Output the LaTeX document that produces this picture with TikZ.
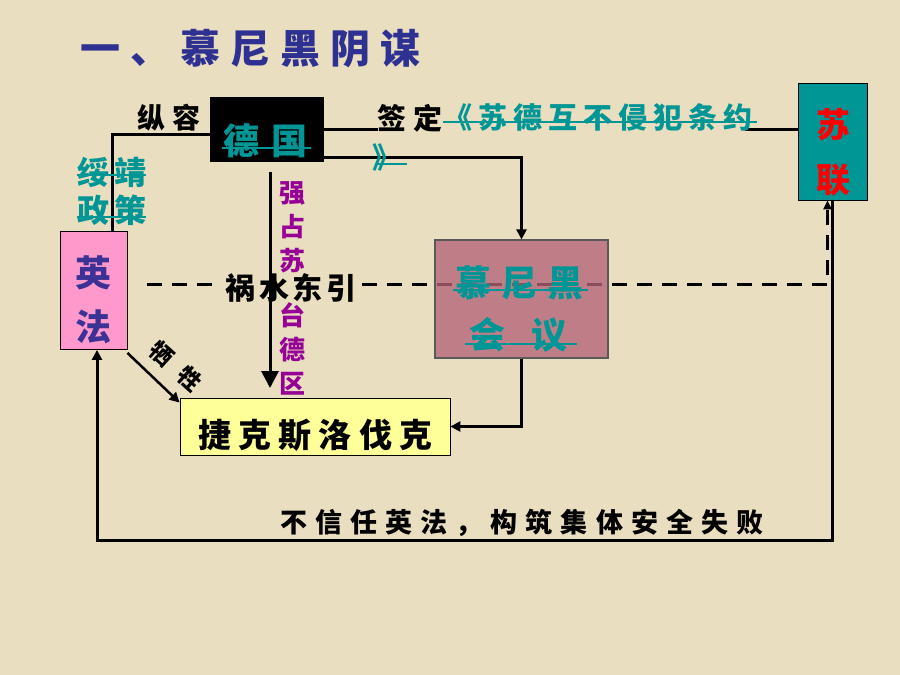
\documentclass[tikz,border=0pt]{standalone}
\usepackage{fontspec}
\setmainfont{Noto Sans CJK SC}
\usetikzlibrary{arrows.meta,calc}
\definecolor{bg}{RGB}{234,222,192}
\definecolor{tealc}{RGB}{0,150,150}
\definecolor{purp}{RGB}{150,0,150}
\definecolor{titleblue}{RGB}{46,49,146}
\definecolor{yfblue}{RGB}{60,50,150}
\definecolor{pinkc}{RGB}{255,153,204}
\definecolor{yellowc}{RGB}{255,255,153}
\definecolor{mauve}{RGB}{180,100,120}
\definecolor{slteal}{RGB}{0,150,150}
\newcommand\cjkf[3]{\fontsize{#1}{#2}\bfseries\addfontfeatures{LetterSpace=#3}}
\begin{document}
\begin{tikzpicture}[x=1pt,y=-1pt,
  conn/.style={line width=3pt, draw=black},
  tipsm/.style={-{Triangle[length=10pt,width=10pt]}},
  tipbig/.style={-{Triangle[length=17pt,width=17pt]}},
  dsh/.style={line width=3pt, dash pattern=on 15pt off 10pt},
  box/.style={draw=black, inner sep=0pt, line width=0.8pt},
  txt/.style={inner sep=0pt},
  strike/.style={line width=2pt, draw=tealc}]
\fill[bg] (0,0) rectangle (900,675);
\useasboundingbox (0,0) rectangle (900,675);

% title
\node[txt, anchor=west, text=titleblue, font={\cjkf{40}{40}{25}}] (ti) at (80,49) {一、慕尼黑阴谋};

% boxes
\node[box, fill=black, minimum width=113pt, minimum height=64pt] (de) at (266.5,129) {};
\node[box, fill=slteal, minimum width=69pt, minimum height=117pt] (sl) at (832.5,141.5) {};
\node[box, fill=pinkc, minimum width=67pt, minimum height=118pt] (yf) at (93.5,290.5) {};
\node[box, fill=yellowc, minimum width=270pt, minimum height=57pt] (jk) at (315,426.5) {};

% dashed line
\coordinate (d1) at (147,284);
\coordinate (d2) at (215,284);
\coordinate (d3) at (362,284);
\draw[dsh] (d1) -- (d2);
\draw[dsh, -{Triangle[length=9pt,width=8pt]}] (d3) -| ([xshift=-5pt]sl.south);

% munich box over the dashed line
\node[box, fill=mauve, fill opacity=0.78, draw=black!65, line width=1.2pt, minimum width=173pt, minimum height=118pt] (mn) at (521.5,299) {};

% connectors
\draw[conn] ([yshift=-5pt]de.west) -| ([xshift=18.5pt]yf.north);
\coordinate (qd) at (378,129);
\draw[conn] (de.east) -- (qd);
\coordinate (t1) at (745,129);
\draw[conn] (t1) -- (t1 -| sl.west);
\draw[conn, tipsm] ([yshift=-28pt]de.east) -| (mn.north);
\coordinate (va1) at (270,172);
\coordinate (va2) at (270,388);
\draw[conn, tipbig] (va1) -- (va2);
\coordinate (c540) at (97,540);
\draw[conn, tipsm] (sl.south) |- (c540) -- ([xshift=3.5pt]yf.south);
\draw[conn, tipsm] (mn.south) |- (jk.east);
\draw[line width=2.5pt, tipsm] ([yshift=-3pt]yf.south east) -- ([yshift=-5pt]jk.north west);

% texts
\node[txt, anchor=west, text=tealc, font={\cjkf{36}{36}{33}}] (degt) at (223,141) {德国};
\node[txt, text=red, align=center, font={\cjkf{34}{55}{0}}] (slt) at (833,152) {苏\\联};
\node[txt, text=yfblue, align=center, font={\cjkf{36}{54}{0}}] (yft) at (93.5,300) {英\\法};
\node[txt, anchor=west, text=tealc, font={\cjkf{36}{36}{28}}] (mn1) at (455,283) {慕尼黑};
\node[txt, anchor=west, text=tealc, font={\cjkf{36}{36}{72}}] (mn2) at (469,335) {会议};
\node[txt, anchor=west, text=black, font={\cjkf{33}{33}{22}}] (jkt) at (198,435) {捷克斯洛伐克};

\node[txt, anchor=west, font={\cjkf{28}{28}{25}}] (zr) at (137,118) {纵容};
\node[txt, anchor=west, font={\cjkf{29}{29}{24}}] (qdt) at (377,118) {签定};
\node[txt, anchor=west, text=tealc, font={\cjkf{29}{29}{21}}] (ty) at (443,117) {《苏德互不侵犯条约};
\node[txt, anchor=west, text=tealc, font={\cjkf{29}{29}{0}}] (ty2) at (372,157) {》};
\node[txt, anchor=west, text=tealc, font={\cjkf{32}{32}{16}}] (sj1) at (77,172) {绥靖};
\node[txt, anchor=west, text=tealc, font={\cjkf{32}{32}{16}}] (sj2) at (77,210) {政策};
\node[txt, text=purp, align=center, font={\cjkf{26}{34}{0}}] (qz) at (292,288.5) {强\\占\\苏\\[21pt]台\\德\\区};
\node[txt, anchor=west, font={\cjkf{30}{30}{13}}] (hs) at (225,288) {祸水东引};
\node[txt, anchor=west, font={\cjkf{27}{27}{30}}] (bx) at (280,523) {不信任英法，构筑集体安全失败};
\node[txt, rotate=-42, font={\cjkf{23}{23}{60}}] (xs) at (176,366) {牺牲};

% hyperlink strike lines
\draw[strike] (222,148) -- (311,148);
\draw[strike] (77,175) -- (146,175);
\draw[strike] (77,217) -- (146,217);
\draw[strike] (443,122) -- (757,122);
\draw[strike] (375,164) -- (407,164);
\draw[strike] (453,290) -- (588,290);
\draw[strike] (465,344) -- (577,344);
\end{tikzpicture}
\end{document}
